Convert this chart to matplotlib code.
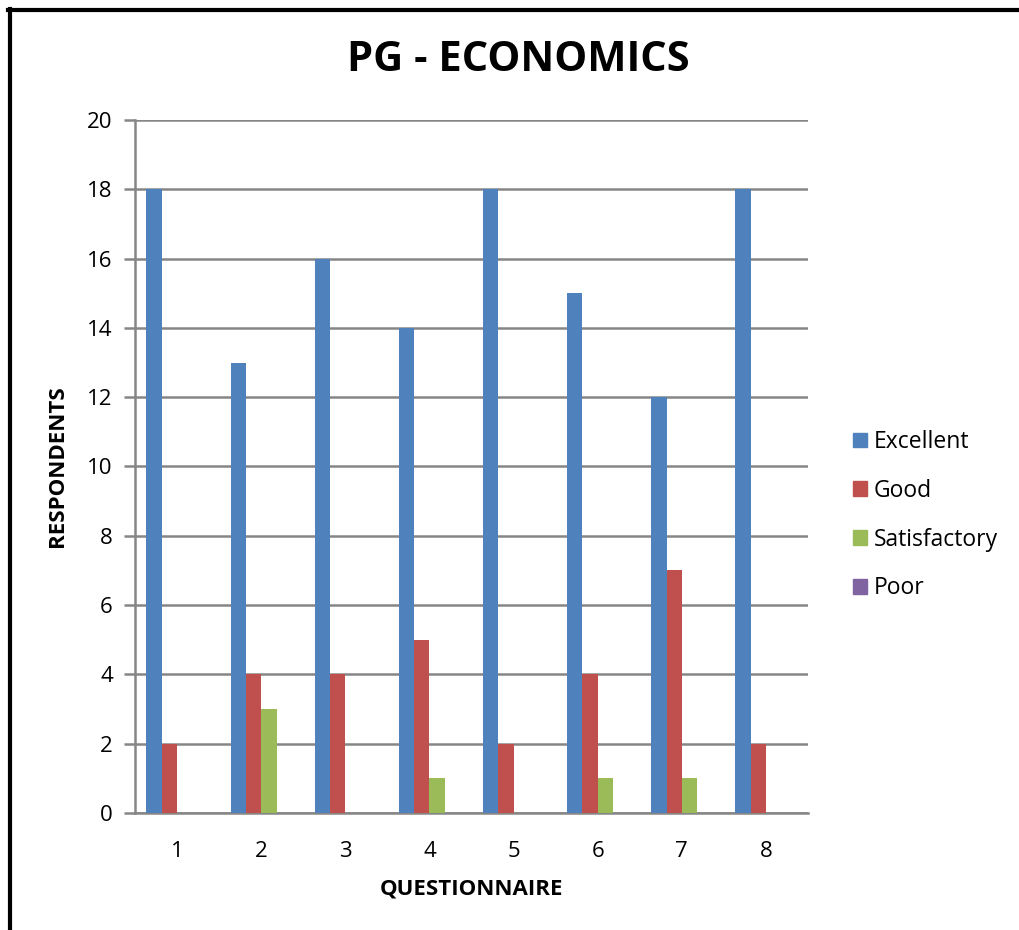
import matplotlib.pyplot as plt
import numpy as np
from matplotlib.lines import Line2D

plt.rcParams["font.family"] = ["Open Sans", "DejaVu Sans"]

questions = ["1", "2", "3", "4", "5", "6", "7", "8"]
series = ["Excellent", "Good", "Satisfactory", "Poor"]
excellent = [18, 13, 16, 14, 18, 15, 12, 18]
good = [2, 4, 4, 5, 2, 4, 7, 2]
satisfactory = [0, 3, 0, 1, 0, 1, 1, 0]
poor = [0, 0, 0, 0, 0, 0, 0, 0]
colors = ["#4F81BD", "#C0504D", "#9BBB59", "#8064A2"]

fig = plt.figure(figsize=(10.19, 9.30), dpi=100)
ax = fig.add_axes([0.1325, 0.1258, 0.6605, 0.7452])

x = np.arange(len(questions))
w = 1 / 5.5
for i, (name, vals) in enumerate(zip(series, [excellent, good, satisfactory, poor])):
    ax.bar(x + (i - 1.5) * w, vals, w, color=colors[i], label=name, zorder=3)

grid = "#868686"
ax.set_xlim(-0.5, len(questions) - 0.5)
ax.set_ylim(0, 20)
ax.set_yticks(range(0, 21, 2))
ax.set_xticks(x)
ax.set_xticklabels(questions)
ax.yaxis.grid(True, color=grid, linewidth=1.8, zorder=0)
ax.set_axisbelow(True)
for s in ["top", "right"]:
    ax.spines[s].set_visible(False)
for s in ["left", "bottom"]:
    ax.spines[s].set_color(grid)
    ax.spines[s].set_linewidth(1.8)
ax.tick_params(axis="y", length=8, width=1.8, color=grid, labelsize=16, pad=8)
ax.tick_params(axis="x", length=0, labelsize=16, pad=20)

ax.set_ylabel("RESPONDENTS", fontsize=16, fontweight="bold", labelpad=14)
ax.set_xlabel("QUESTIONNAIRE", fontsize=16, fontweight="bold", labelpad=12)
fig.text(0.509, 0.935, "PG - ECONOMICS", ha="center", va="center",
         fontsize=30, fontweight="bold")

handles = [plt.Rectangle((0, 0), 1, 1, color=c) for c in colors]
fig.legend(handles, series, loc="center left", bbox_to_anchor=(0.817, 0.446),
           frameon=False, fontsize=16.5, handlelength=0.6, handleheight=0.6,
           handletextpad=0.3, labelspacing=1.08)

fig.add_artist(Line2D([0.008, 1.0], [0.989, 0.989], color="black", linewidth=3,
                      transform=fig.transFigure))
fig.add_artist(Line2D([0.0098, 0.0098], [0.99, 0.0], color="black", linewidth=3,
                      transform=fig.transFigure))

fig.savefig("out.png", dpi=100)
